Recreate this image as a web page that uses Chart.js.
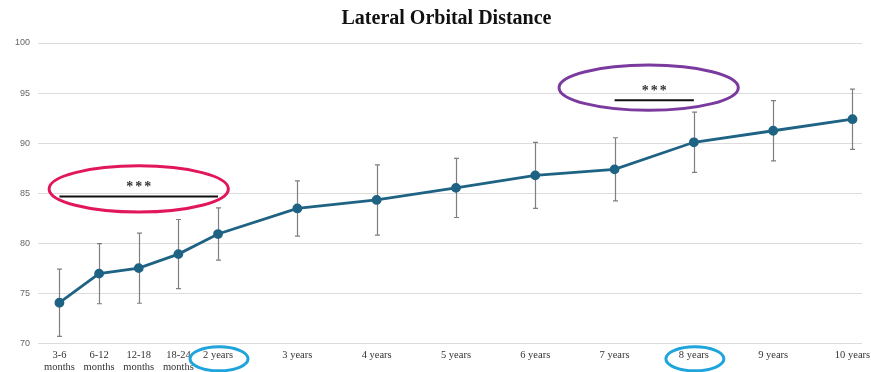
<!DOCTYPE html>
<html>
<head>
<meta charset="utf-8">
<script src="https://cdn.jsdelivr.net/npm/chart.js@4"></script>
<style>
  html, body { margin: 0; padding: 0; background: #fff; }
  #wrap { width: 871px; height: 372px; }
</style>
</head>
<body>
<div id="wrap"><canvas id="chart"></canvas></div>
<script>
// age groups, as they sit on the age axis (months groups are half steps)
const ageLabels = [
  ["3-6", "months"], ["6-12", "months"], ["12-18", "months"], ["18-24", "months"],
  "2 years", "3 years", "4 years", "5 years", "6 years", "7 years", "8 years", "9 years", "10 years"
];
const agePos = [0, 0.5, 1, 1.5, 2, 3, 4, 5, 6, 7, 8, 9, 10];

// mean lateral orbital distance and its spread (error bar half length)
const meanValues = [74.1, 77.0, 77.55, 78.95, 80.95, 83.5, 84.35, 85.55, 86.8, 87.4, 90.1, 91.25, 92.4];
const sdValues = [3.35, 3.0, 3.5, 3.45, 2.6, 2.75, 3.5, 2.95, 3.3, 3.15, 3.0, 3.0, 3.0];

const yTicks = [70, 75, 80, 85, 90, 95, 100];

// significance marks: bracket between two age groups
const sigMarks = [
  { from: 0, to: 2, y: 84.7, text: "***", ring: "#e2175b", cx: 1.0, cy: 85.45, rx: 1.13, ry: 2.3 },
  { from: 7, to: 8, y: 94.3, text: "***", ring: "#7b3a9e", cx: 7.43, cy: 95.55, rx: 1.13, ry: 2.25 }
];
// age groups circled on the axis
const circledAges = [2, 8];

const lineColor = "#1f6384";

const errorBars = {
  id: "errorBars",
  beforeDatasetsDraw(chart) {
    const { ctx, scales: { x, y } } = chart;
    ctx.save();
    ctx.strokeStyle = "#7f7f7f";
    ctx.lineWidth = 1.2;
    agePos.forEach((p, i) => {
      const px = Math.round(x.getPixelForValue(p)) + 0.5;
      const top = y.getPixelForValue(meanValues[i] + sdValues[i]);
      const bot = y.getPixelForValue(meanValues[i] - sdValues[i]);
      ctx.beginPath();
      ctx.moveTo(px, top); ctx.lineTo(px, bot);
      ctx.moveTo(px - 2.5, top); ctx.lineTo(px + 2.5, top);
      ctx.moveTo(px - 2.5, bot); ctx.lineTo(px + 2.5, bot);
      ctx.stroke();
    });
    ctx.restore();
  }
};

const marks = {
  id: "marks",
  afterLayout(chart) {
    // the title sits a little right of the page centre
    if (chart.titleBlock) chart.titleBlock.left += 24;
  },
  afterDraw(chart) {
    const { ctx, scales: { x, y }, chartArea } = chart;
    ctx.save();
    sigMarks.forEach(m => {
      const x1 = x.getPixelForValue(m.from), x2 = x.getPixelForValue(m.to);
      const ly = y.getPixelForValue(m.y);
      ctx.strokeStyle = "#111";
      ctx.lineWidth = 2;
      ctx.beginPath();
      ctx.moveTo(x1, ly); ctx.lineTo(x2, ly);
      ctx.stroke();
      ctx.fillStyle = "#333";
      ctx.font = "bold 14px 'Liberation Serif'";
      ctx.letterSpacing = "2px";
      ctx.textAlign = "center";
      ctx.textBaseline = "middle";
      ctx.fillText(m.text, (x1 + x2) / 2 + 1, ly - 9);
      ctx.letterSpacing = "0px";
      const cx = x.getPixelForValue(m.cx), cy = y.getPixelForValue(m.cy);
      const rx = x.getPixelForValue(m.cx + m.rx) - cx;
      const ry = cy - y.getPixelForValue(m.cy + m.ry);
      ctx.strokeStyle = m.ring;
      ctx.lineWidth = 3;
      ctx.beginPath();
      ctx.ellipse(cx, cy, rx, ry, 0, 0, Math.PI * 2);
      ctx.stroke();
    });
    ctx.strokeStyle = "#1fa4dc";
    ctx.lineWidth = 3;
    circledAges.forEach(a => {
      const cx = x.getPixelForValue(a);
      ctx.beginPath();
      ctx.ellipse(cx + 1, chartArea.bottom + 15, 29, 12, 0, 0, Math.PI * 2);
      ctx.stroke();
    });
    ctx.restore();
  }
};

new Chart(document.getElementById("chart"), {
  type: "line",
  data: {
    datasets: [{
      data: agePos.map((p, i) => ({ x: p, y: meanValues[i] })),
      borderColor: lineColor,
      backgroundColor: lineColor,
      borderWidth: 2.8,
      pointRadius: 3.5,
      pointHoverRadius: 3.5,
      tension: 0
    }]
  },
  options: {
    responsive: true,
    maintainAspectRatio: false,
    animation: false,
    layout: { padding: { left: 7, right: 9, top: 2, bottom: -6 } },
    plugins: {
      legend: { display: false },
      tooltip: { enabled: false },
      title: {
        display: true,
        text: "Lateral Orbital Distance",
        color: "#111",
        font: { family: "'Liberation Serif'", size: 20, weight: "bold" },
        padding: { top: 5, bottom: 12 }
      }
    },
    scales: {
      x: {
        type: "linear",
        min: -0.27,
        max: 10.12,
        afterBuildTicks: s => { s.ticks = agePos.map(v => ({ value: v })); },
        // let the last label run into the right margin
        afterFit: s => { s.paddingLeft = 0; s.paddingRight = 0; },
        grid: { display: false, drawTicks: false },
        border: { display: false },
        ticks: {
          autoSkip: false,
          maxRotation: 0,
          padding: 5,
          color: "#333",
          font: { family: "'Liberation Serif'", size: 10.5, lineHeight: 1.15 },
          callback: (v, i) => ageLabels[i]
        }
      },
      y: {
        min: 70,
        max: 100,
        afterBuildTicks: s => { s.ticks = yTicks.map(v => ({ value: v })); },
        grid: { color: "#dcdcdc", drawTicks: false },
        border: { display: false },
        ticks: {
          padding: 8,
          color: "#666",
          font: { family: "'Liberation Sans'", size: 9 }
        }
      }
    }
  },
  plugins: [errorBars, marks]
});
</script>
</body>
</html>
